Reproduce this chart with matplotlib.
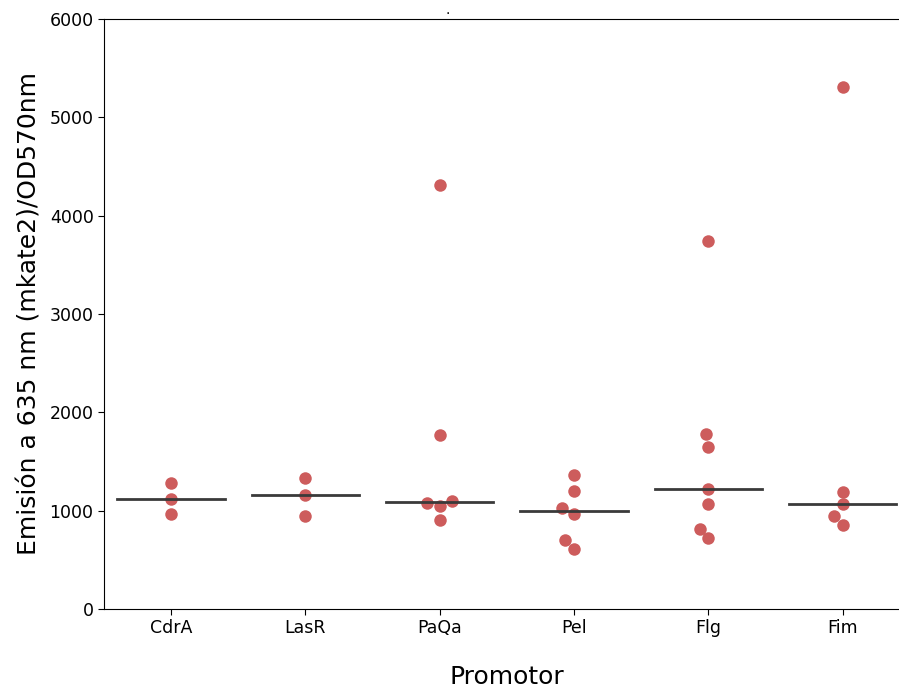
import matplotlib
matplotlib.use("Agg")
import matplotlib.pyplot as plt
import numpy as np
import pandas as pd
import seaborn as sns

# values
promotores = ["CdrA", "LasR", "PaQa", "Pel", "Flg", "Fim"]
cdra = [1281, 1119, 966]
lasr = [1332, 1159, 946]
paqa = [4316, 1766, 1081, 1047, 1098, 905]
pel = [1363, 1203, 1024, 966, 702, 607]
flg = [3739, 1776, 1651, 1224, 1065, 814, 719]
fim = [5309, 1193, 1065, 946, 854]

series = [cdra, lasr, paqa, pel, flg, fim]
df = pd.DataFrame({
    "Promotor": [p for p, s in zip(promotores, series) for _ in s],
    "valor": [v for s in series for v in s],
})

fig = plt.figure(figsize=(8.99, 6.90), dpi=100)
ax = fig.add_axes([0.1157, 0.1174, 0.8963, 0.8551])

sns.swarmplot(data=df, x="Promotor", y="valor", order=promotores,
              color="indianred", size=9, ax=ax, zorder=3)

# median line per group
for i, s in enumerate(series):
    m = np.median(s)
    ax.plot([i - 0.4, i + 0.4], [m, m], color="#3a3a3a", lw=2, zorder=4)

ax.set_ylim(0, 6000)
ax.set_xlim(-0.5, 5.5)
ax.spines["right"].set_visible(False)
ax.tick_params(axis="both", labelsize=12.5, length=4)
ax.set_ylabel("Emisión a 635 nm (mkate2)/OD570nm", fontsize=18, labelpad=6)
ax.set_xlabel("Promotor", fontsize=18, labelpad=20)
fig.text(0.4985, 0.985, ".", fontsize=10, ha="center", va="center")

fig.savefig("out.png", dpi=100)
